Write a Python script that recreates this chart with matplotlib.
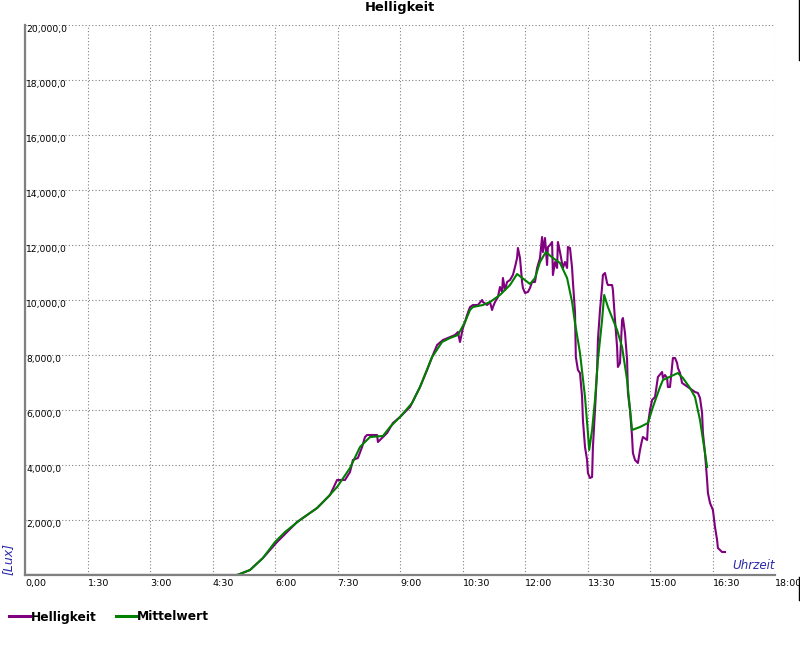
import matplotlib
matplotlib.use("Agg")
from matplotlib import pyplot as plt
from matplotlib.lines import Line2D

# Helligkeit (purple), time in hours, value in lux
hell_t = [0.0, 5.09, 5.16, 5.40, 5.71, 6.05, 6.53, 7.01, 7.32, 7.49, 7.68, 7.80, 7.87, 7.99,
          8.09, 8.16, 8.21, 8.45, 8.47, 8.59, 8.69, 8.83, 9.00, 9.24, 9.48, 9.65, 9.77, 9.89,
          10.03, 10.32, 10.39, 10.44, 10.51, 10.56, 10.61, 10.68, 10.75, 10.87, 10.97, 10.99,
          11.09, 11.16, 11.21, 11.23, 11.28, 11.35, 11.40, 11.45, 11.47, 11.52, 11.57, 11.64,
          11.71, 11.76, 11.81, 11.83, 11.88, 11.93, 11.95, 12.00, 12.07, 12.12, 12.17, 12.24,
          12.29, 12.36, 12.41, 12.43, 12.48, 12.53, 12.55, 12.60, 12.65, 12.67, 12.72, 12.77,
          12.79, 12.84, 12.89, 12.91, 12.96, 13.01, 13.03, 13.08, 13.13, 13.15, 13.20, 13.22,
          13.27, 13.32, 13.37, 13.39, 13.44, 13.49, 13.51, 13.56, 13.61, 13.63, 13.68, 13.73,
          13.75, 13.80, 13.85, 13.87, 13.92, 13.97, 13.99, 14.09, 14.11, 14.16, 14.21, 14.23,
          14.28, 14.33, 14.35, 14.40, 14.45, 14.47, 14.52, 14.57, 14.59, 14.64, 14.71, 14.76,
          14.81, 14.83, 14.93, 14.95, 15.00, 15.05, 15.12, 15.17, 15.19, 15.29, 15.31, 15.36,
          15.41, 15.43, 15.48, 15.53, 15.55, 15.60, 15.65, 15.67, 15.72, 15.77, 15.84, 15.91,
          16.01, 16.08, 16.15, 16.20, 16.25, 16.27, 16.32, 16.37, 16.39, 16.44, 16.51, 16.56,
          16.61, 16.63, 16.73, 16.80]
hell_v = [0, 0, 36, 182, 618, 1200, 1927, 2436, 2909, 3455, 3455, 3745, 4182, 4255,
          4655, 5018, 5091, 5091, 4836, 5018, 5164, 5527, 5745, 6109, 6836, 7455, 7927, 8364,
          8545, 8727, 8836, 8473, 8982, 9200, 9455, 9745, 9818, 9818, 10000, 9927,
          9818, 9927, 9636, 9745, 9927, 10109, 10473, 10291, 10800, 10364, 10655, 10727,
          10909, 11200, 11527, 11891, 11527, 10655, 10436, 10255, 10291, 10436, 10655, 10655,
          11164, 11527, 12291, 11745, 12255, 11273, 11927, 12000, 12109, 10909, 11382, 11164,
          12109, 11745, 11345, 11164, 11382, 11164, 11927, 11891, 11164, 10655, 9564, 7927,
          7455, 7345, 6473, 5636, 4655, 4182, 3709, 3527, 3564, 4655, 6000, 7455,
          8545, 9636, 10473, 10909, 10982, 10618, 10545, 10545, 10364, 9273, 8291, 7564,
          7709, 9273, 9345, 8800, 7818, 6618, 6000, 5018, 4436, 4182, 4073, 4545,
          4909, 5018, 4909, 5455, 6000, 6364, 6473, 6982, 7200, 7382, 7164, 7273,
          7164, 6836, 6836, 7564, 7891, 7891, 7709, 7527, 7345, 6982, 6909, 6836,
          6727, 6655, 6618, 6436, 5891, 5164, 4436, 3455, 2982, 2618, 2364, 1745,
          1273, 982, 836, 836]

# Mittelwert (green)
mittel_t = [0.0, 5.09, 5.40, 5.71, 6.00, 6.24, 6.60, 7.01, 7.27, 7.49, 7.80, 8.04, 8.28,
            8.59, 8.76, 9.00, 9.29, 9.48, 9.77, 10.01, 10.20, 10.39, 10.56, 10.68, 10.75,
            10.99, 11.16, 11.40, 11.64, 11.81, 12.12, 12.24, 12.36, 12.50, 12.67, 12.84,
            13.01, 13.13, 13.20, 13.32, 13.44, 13.51, 13.54, 13.61, 13.68, 13.75, 13.85,
            13.90, 13.99, 14.21, 14.33, 14.45, 14.57, 14.76, 14.95, 15.07, 15.24, 15.31,
            15.67, 15.79, 15.96, 16.08, 16.20, 16.32, 16.37]
mittel_v = [0, 0, 182, 618, 1200, 1564, 2000, 2436, 2836, 3200, 3891, 4655, 5018,
            5055, 5382, 5745, 6255, 6836, 7927, 8473, 8618, 8727, 9200, 9636, 9745,
            9818, 9927, 10182, 10545, 10945, 10582, 10800, 11382, 11745, 11527, 11345,
            10800, 9927, 9164, 8073, 6473, 5164, 4545, 5273, 6364, 7818, 9273,
            10182, 9745, 8909, 8291, 7091, 5273, 5382, 5527, 6109, 6836, 7091,
            7345, 7164, 6800, 6473, 5636, 4436, 3927]

x_ticks = [0, 1.5, 3, 4.5, 6, 7.5, 9, 10.5, 12, 13.5, 15, 16.5, 18]
x_labels = ["0,00", "1:30", "3:00", "4:30", "6:00", "7:30", "9:00", "10:30",
            "12:00", "13:30", "15:00", "16:30", "18:00"]
y_ticks = [2000, 4000, 6000, 8000, 10000, 12000, 14000, 16000, 18000, 20000]
y_labels = ["2,000,0", "4,000,0", "6,000,0", "8,000,0", "10,000,0", "12,000,0",
            "14,000,0", "16,000,0", "18,000,0", "20,000,0"]

purple = "#800080"
green = "#008000"
blue = "#2a2aa8"

fig = plt.figure(figsize=(8, 6.5), dpi=100)
ax = fig.add_axes([25/800, 75/650, 750/800, 550/650])

ax.plot(hell_t, hell_v, color=purple, lw=1.5, label="Helligkeit")
ax.plot(mittel_t, mittel_v, color=green, lw=1.5, label="Mittelwert")

ax.set_xlim(0, 18)
ax.set_ylim(0, 20000)
ax.set_xticks(x_ticks)
ax.set_xticklabels(x_labels, ha="left", fontsize=6.8)
ax.set_yticks(y_ticks)
ax.set_yticklabels(y_labels, ha="left", va="top", fontsize=6.6)
ax.tick_params(axis="x", length=0, pad=3)
ax.tick_params(axis="y", length=0, pad=-0.8)
ax.grid(True, color="#808080", lw=0.8, linestyle=(0, (1, 2)))

for s in ["top", "right"]:
    ax.spines[s].set_visible(False)
for s in ["left", "bottom"]:
    ax.spines[s].set_color("#808080")
    ax.spines[s].set_linewidth(1.6)

ax.text(1.0, 0.005, "Uhrzeit", transform=ax.transAxes, ha="right", va="bottom",
        style="italic", color=blue, fontsize=8.6)
fig.text(8/800, 1 - 559/650, "[Lux]", rotation=90, ha="center", va="center",
         style="italic", color=blue, fontsize=9)
fig.text(0.5, 1 - 8/650, "Helligkeit", ha="center", va="center",
         fontweight="bold", fontsize=9.4)

fig.legend(loc="center left", bbox_to_anchor=(9/800, 1 - 617/650), ncol=2,
           frameon=False, prop={"weight": "bold", "size": 8.8},
           handlelength=1.75, handletextpad=0.0, columnspacing=1.6,
           borderpad=0, borderaxespad=0)
for h in fig.legends[0].get_lines():
    h.set_linewidth(2.2)

fig.add_artist(Line2D([799/800, 799/800], [1.0, 1 - 60/650], color="black", lw=1))
fig.add_artist(Line2D([799/800, 799/800], [1 - 577/650, 1 - 600/650], color="black", lw=1))

fig.savefig("out.png", dpi=100)
